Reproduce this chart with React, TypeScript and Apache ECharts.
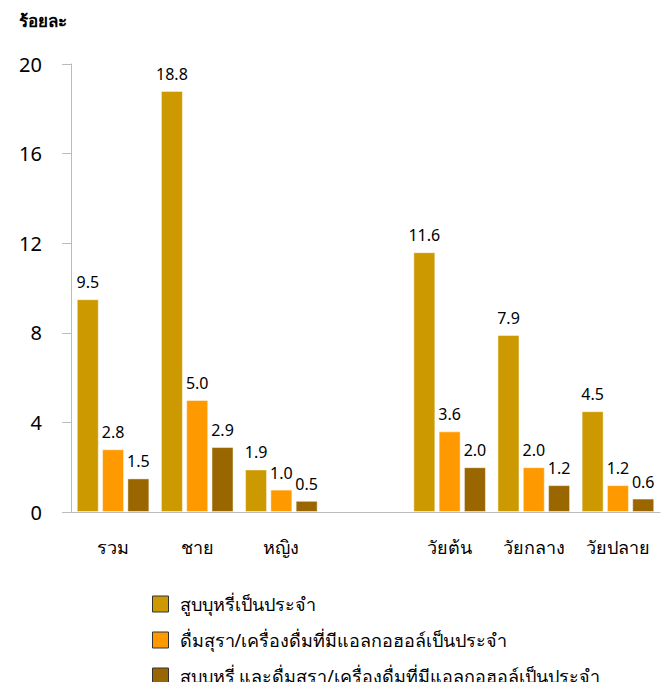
import React, { useEffect, useRef } from "react";
import * as echarts from "echarts";

const categories = ["รวม", "ชาย", "หญิง", "", "วัยต้น", "วัยกลาง", "วัยปลาย"];
const smoke = [9.5, 18.8, 1.9, null, 11.6, 7.9, 4.5];
const drink = [2.8, 5.0, 1.0, null, 3.6, 2.0, 1.2];
const both = [1.5, 2.9, 0.5, null, 2.0, 1.2, 0.6];
const seriesNames = [
  "สูบบุหรี่เป็นประจำ",
  "ดื่มสุรา/เครื่องดื่มที่มีแอลกอฮอล์เป็นประจำ",
  "สูบบุหรี่ และดื่มสุรา/เครื่องดื่มที่มีแอลกอฮอล์เป็นประจำ",
];
const colors = ["#CC9900", "#FF9900", "#996600"];
const yTicks = [0, 4, 8, 12, 16, 20];

const FONT = "Tahoma, 'Noto Sans', 'DejaVu Sans', sans-serif";

export default function App() {
  const ref = useRef<HTMLDivElement>(null);
  useEffect(() => {
    if (!ref.current) return;
    const chart = echarts.init(ref.current, undefined, { renderer: "svg" });
    const data = [smoke, drink, both];
    chart.setOption({
      animation: false,
      textStyle: { fontFamily: FONT },
      title: {
        text: "ร้อยละ",
        left: 14,
        top: 7,
        textStyle: { fontSize: 17, fontWeight: "bold", color: "#000", fontFamily: FONT },
      },
      grid: { left: 71, right: 12, top: 64, bottom: 178 },
      legend: {
        orient: "vertical",
        left: 147,
        top: 590,
        height: 120,
        itemWidth: 16,
        itemHeight: 16,
        itemGap: 18,
        icon: "rect",
        itemStyle: { borderColor: "#333", borderWidth: 1 },
        textStyle: {
          fontSize: 18,
          lineHeight: 18,
          color: "#000",
          fontFamily: FONT,
          padding: [0, 0, 0, 6],
        },
        data: seriesNames,
      },
      xAxis: {
        type: "category",
        data: categories,
        axisLine: { lineStyle: { color: "#BBBBBB", width: 1 } },
        axisTick: { show: false },
        axisLabel: { fontSize: 18, color: "#000", margin: 26, fontFamily: FONT },
      },
      yAxis: {
        type: "value",
        min: 0,
        max: 20,
        interval: 4,
        splitLine: { show: false },
        axisLine: { show: true, lineStyle: { color: "#BBBBBB", width: 1 } },
        axisTick: { show: true, length: 9, lineStyle: { color: "#BBBBBB" } },
        axisLabel: {
          fontSize: 20,
          color: "#000",
          margin: 29,
          fontFamily: FONT,
          formatter: (v: number) => (yTicks.includes(v) ? String(v) : ""),
        },
      },
      series: data.map((d, i) => ({
        name: seriesNames[i],
        type: "bar",
        data: d.map((v) => (v === null ? "-" : v)),
        barWidth: 22,
        barGap: "15%",
        itemStyle: {
          color: colors[i],
          borderColor: "rgba(255,255,255,0.45)",
          borderWidth: 1,
        },
        label: {
          show: true,
          position: "top",
          distance: 9,
          fontSize: 16,
          color: "#000",
          fontFamily: FONT,
          formatter: (p: any) => Number(p.value).toFixed(1),
        },
      })),
    });
    return () => chart.dispose();
  }, []);
  return <div ref={ref} style={{ width: 672, height: 690, margin: -8 }} />;
}
